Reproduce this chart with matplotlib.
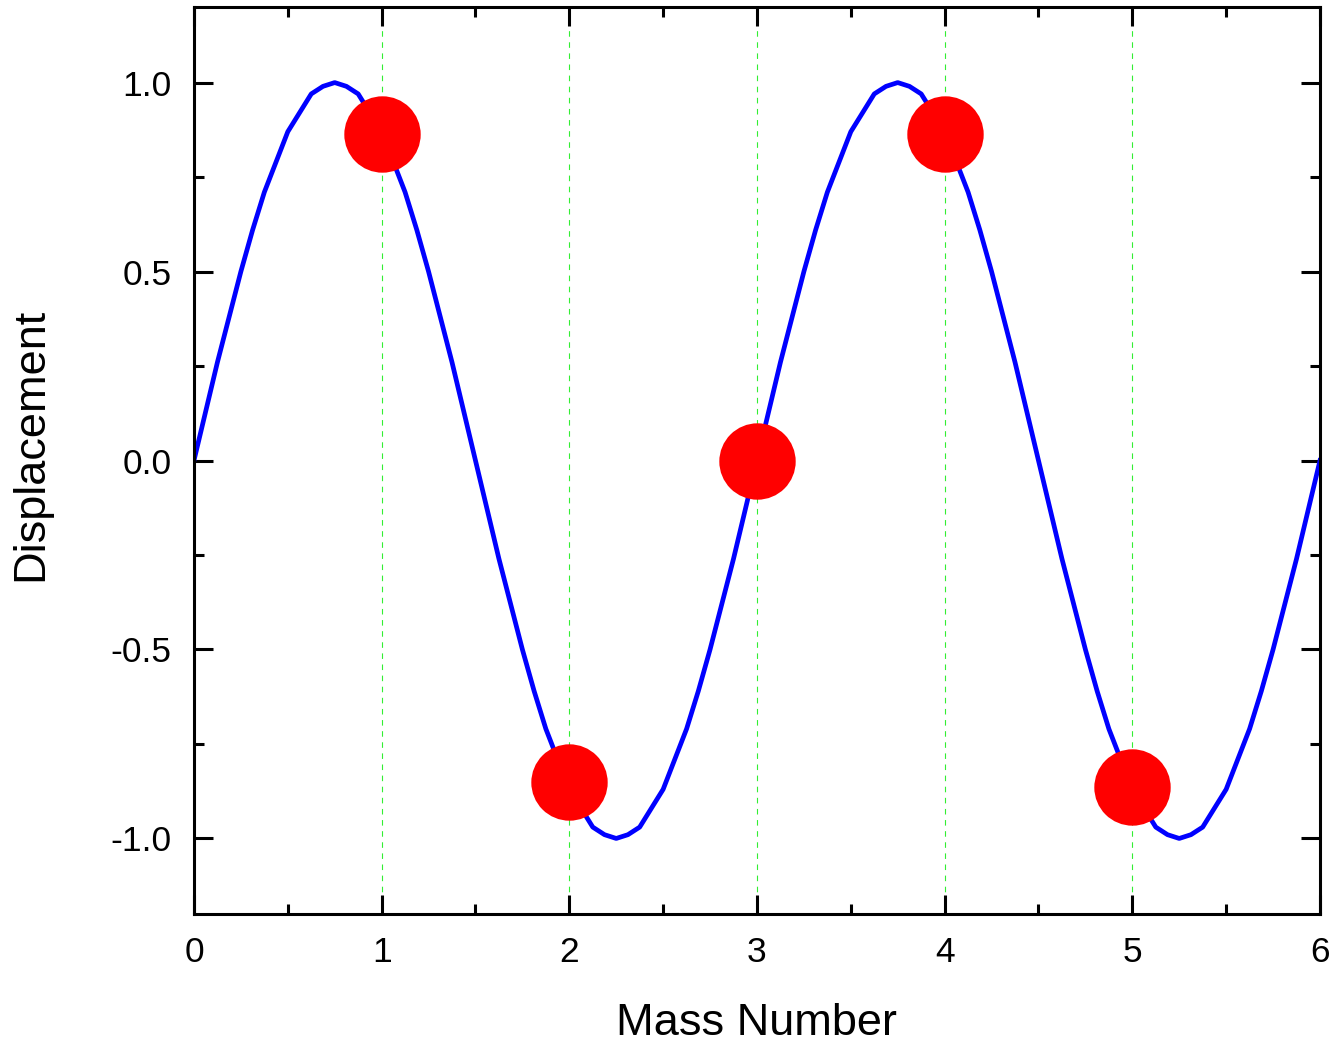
import numpy as np
import matplotlib
matplotlib.use('Agg')
import matplotlib.pyplot as plt
from matplotlib.ticker import MultipleLocator, FormatStrFormatter

plt.rcParams['font.family'] = ['Liberation Sans', 'DejaVu Sans']

# displacement curve sampled every 0.0625 along the mass axis
curve_y = [0.00, 0.13, 0.26, 0.38, 0.50, 0.61, 0.71, 0.79, 0.87, 0.92, 0.97, 0.99,
           1.00, 0.99, 0.97, 0.92, 0.87, 0.79, 0.71, 0.61, 0.50, 0.38, 0.26, 0.13,
           0.00, -0.13, -0.26, -0.38, -0.50, -0.61, -0.71, -0.79, -0.87, -0.92, -0.97, -0.99,
           -1.00, -0.99, -0.97, -0.92, -0.87, -0.79, -0.71, -0.61, -0.50, -0.38, -0.26, -0.13,
           0.00, 0.13, 0.26, 0.38, 0.50, 0.61, 0.71, 0.79, 0.87, 0.92, 0.97, 0.99,
           1.00, 0.99, 0.97, 0.92, 0.87, 0.79, 0.71, 0.61, 0.50, 0.38, 0.26, 0.13,
           0.00, -0.13, -0.26, -0.38, -0.50, -0.61, -0.71, -0.79, -0.87, -0.92, -0.97, -0.99,
           -1.00, -0.99, -0.97, -0.92, -0.87, -0.79, -0.71, -0.61, -0.50, -0.38, -0.26, -0.13,
           0.00]
curve_x = np.linspace(0, 6, len(curve_y))

mass_x = [1, 2, 3, 4, 5]
mass_y = [0.865, -0.85, 0.0, 0.865, -0.865]

fig = plt.figure(figsize=(13.34, 10.42), dpi=100)
ax = fig.add_axes([0.1454, 0.1228, 0.8441, 0.8705])

ax.grid(axis='x', color='#33ee33', linestyle=(0, (5, 5)), linewidth=0.8, zorder=0)
ax.plot(curve_x, curve_y, color='#0000ff', linewidth=3.4, zorder=2)
ax.plot(mass_x, mass_y, 'o', color='#ff0000', markersize=55, markeredgewidth=0, zorder=3)

ax.set_xlim(0, 6)
ax.set_ylim(-1.2, 1.2)
ax.xaxis.set_major_locator(MultipleLocator(1))
ax.xaxis.set_minor_locator(MultipleLocator(0.5))
ax.yaxis.set_major_locator(MultipleLocator(0.5))
ax.yaxis.set_minor_locator(MultipleLocator(0.25))
ax.yaxis.set_major_formatter(FormatStrFormatter('%.1f'))

ax.tick_params(which='both', direction='in', top=True, right=True, width=2.2)
ax.tick_params(which='major', length=14, labelsize=25.5, pad=16)
ax.tick_params(which='minor', length=7)
for s in ax.spines.values():
    s.set_linewidth(2.2)

ax.set_xlabel('Mass Number', fontsize=32.5, va='top')
ax.xaxis.set_label_coords(0.5, -0.0985)
ax.set_ylabel('Displacement', fontsize=32.5)
ax.yaxis.set_label_coords(-0.1265, 0.518)

fig.savefig('out.png', dpi=100)
